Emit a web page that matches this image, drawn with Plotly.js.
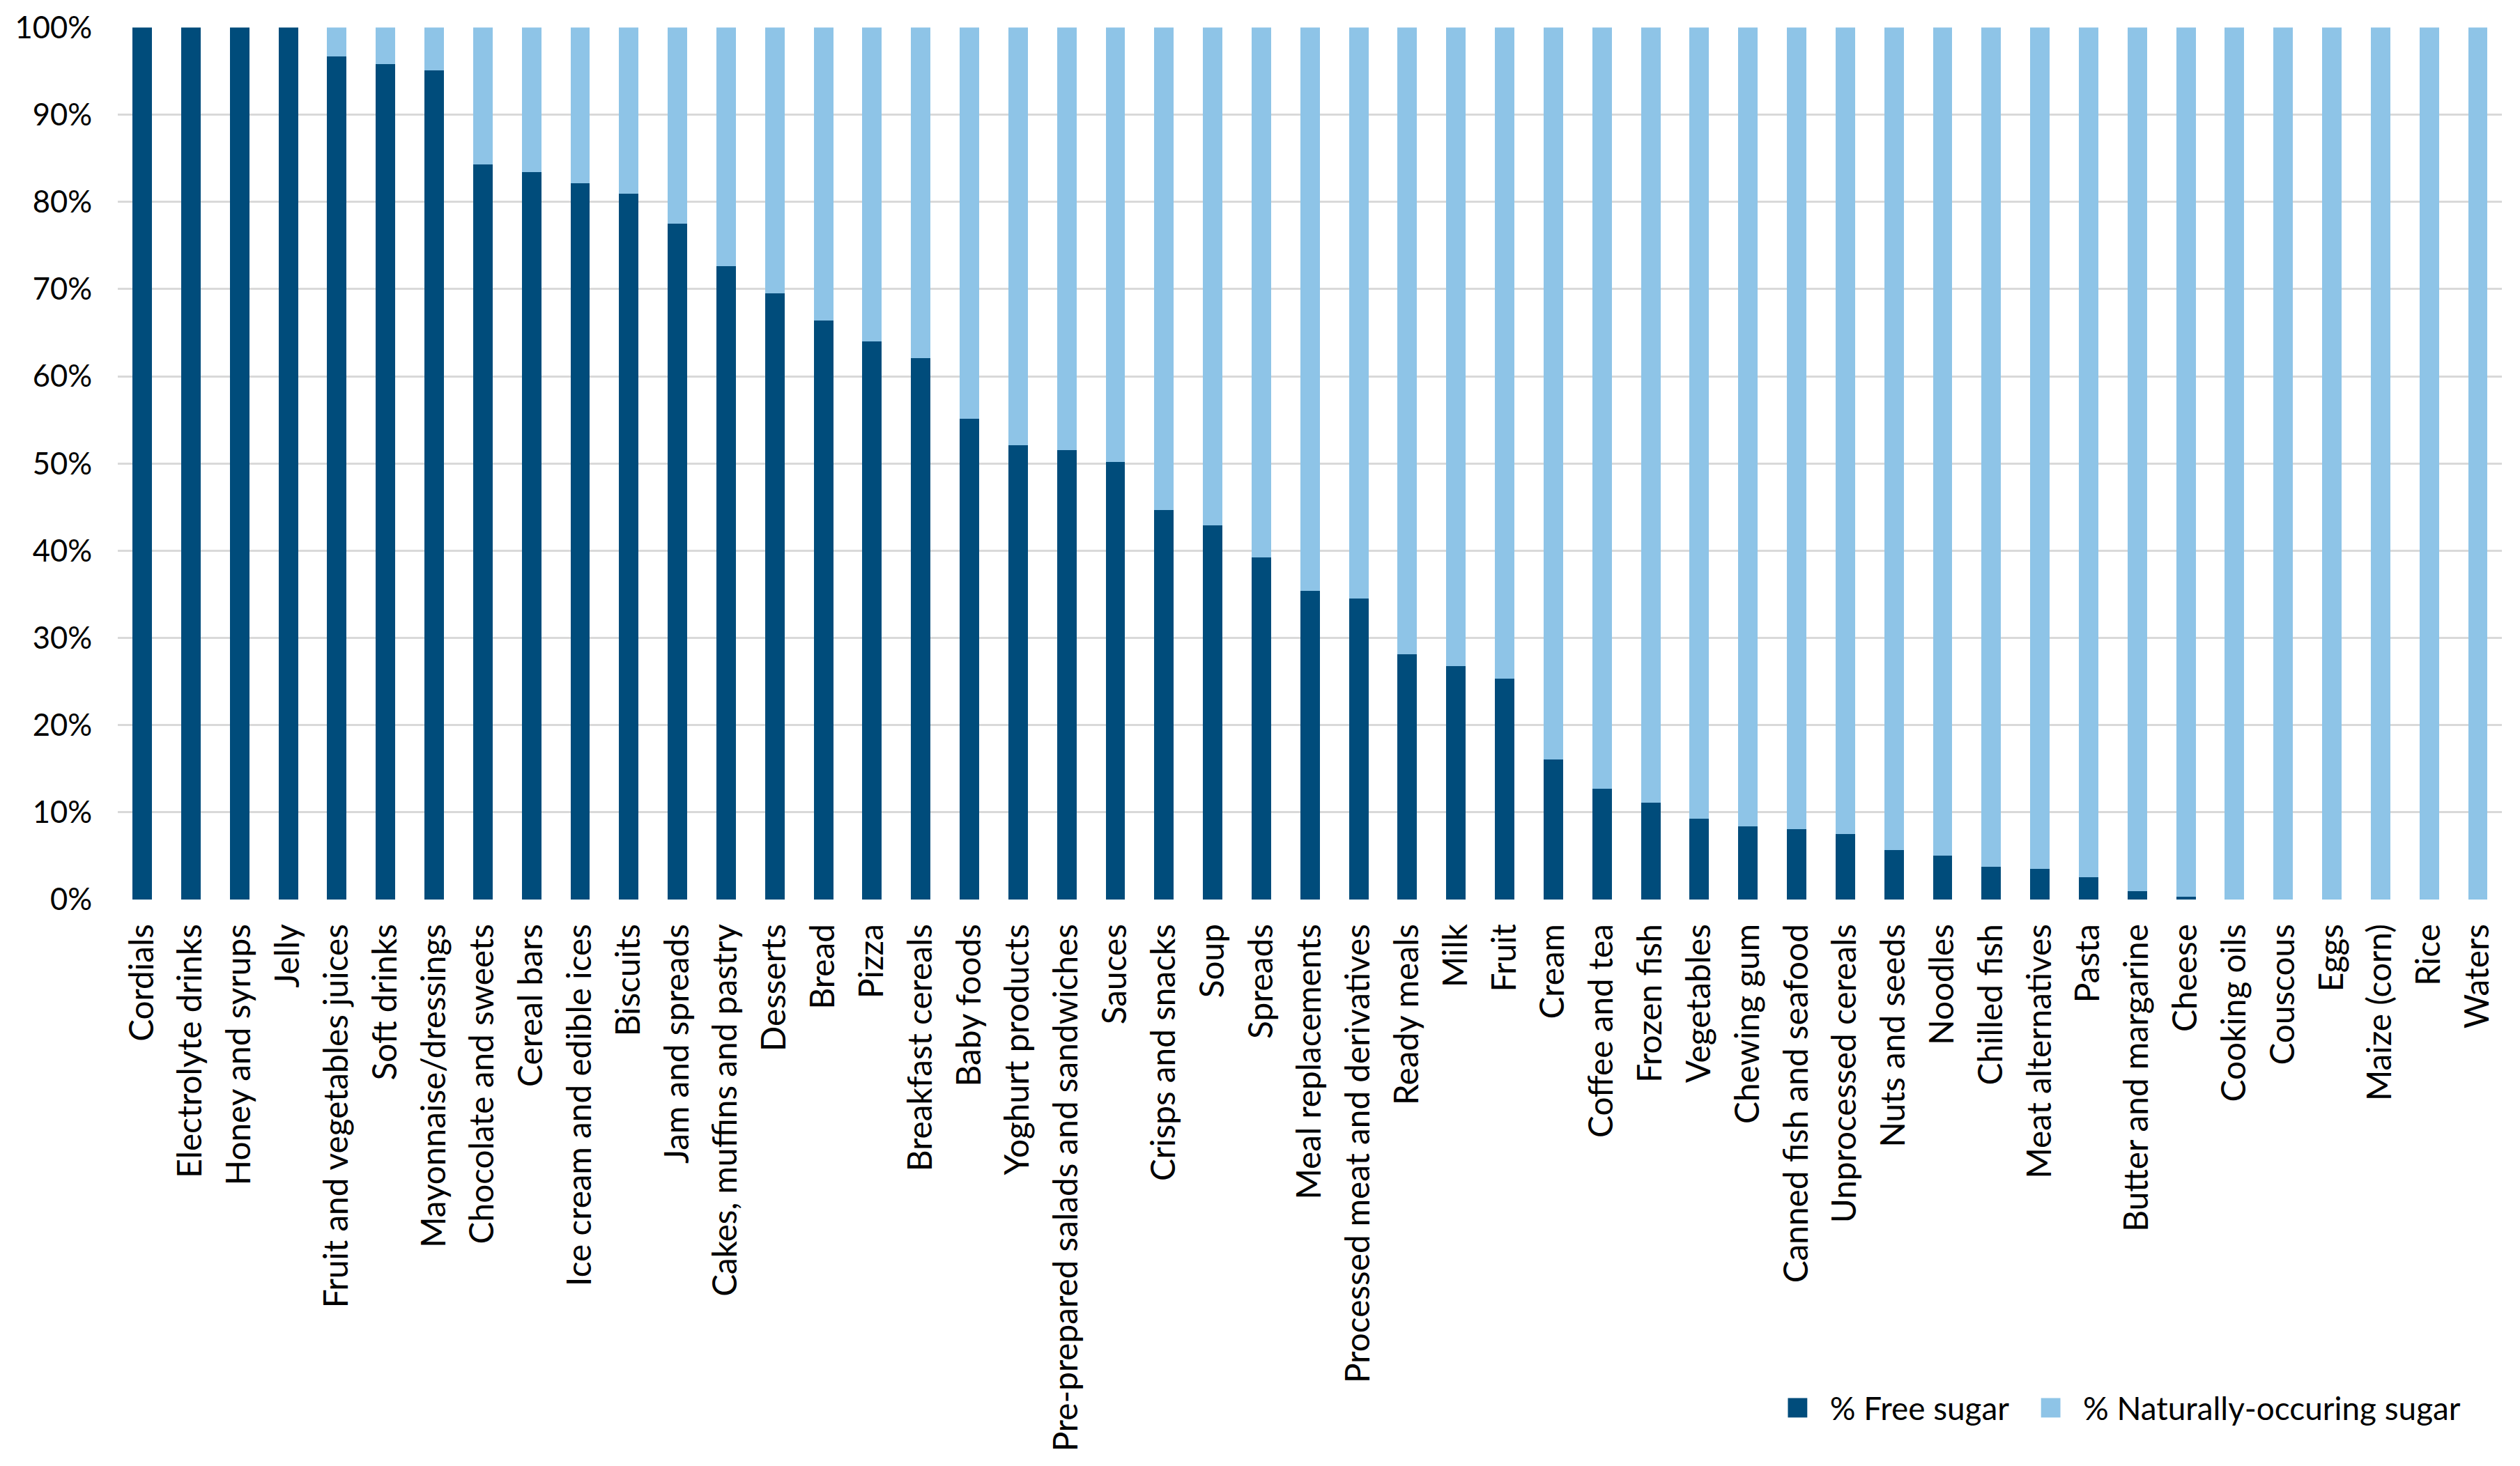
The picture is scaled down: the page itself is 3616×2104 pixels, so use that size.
<!DOCTYPE html>
<html>
<head>
<meta charset="utf-8">
<script src="https://cdn.plot.ly/plotly-3.0.1.min.js"></script>
<style>
    html { margin: 0; padding: 0; background: #ffffff; }
    body { margin: 0; padding: 0; width: 3616px; height: 2104px; background: #ffffff; }
    #wrap { width: 1560px; height: 908px; transform: scale(2.3179); transform-origin: 0 0; }
</style>
</head>
<body>
<div id="wrap"><div id="chart"></div></div>
<script>

// food categories, left to right
const categories = [
    'Cordials', 'Electrolyte drinks', 'Honey and syrups', 'Jelly',
    'Fruit and vegetables juices', 'Soft drinks', 'Mayonnaise/dressings',
    'Chocolate and sweets', 'Cereal bars', 'Ice cream and edible ices',
    'Biscuits', 'Jam and spreads', 'Cakes, muffins and pastry', 'Desserts',
    'Bread', 'Pizza', 'Breakfast cereals', 'Baby foods', 'Yoghurt products',
    'Pre-prepared salads and sandwiches', 'Sauces', 'Crisps and snacks', 'Soup',
    'Spreads', 'Meal replacements', 'Processed meat and derivatives',
    'Ready meals', 'Milk', 'Fruit', 'Cream', 'Coffee and tea', 'Frozen fish',
    'Vegetables', 'Chewing gum', 'Canned fish and seafood', 'Unprocessed cereals',
    'Nuts and seeds', 'Noodles', 'Chilled fish', 'Meat alternatives', 'Pasta',
    'Butter and margarine', 'Cheese', 'Cooking oils', 'Couscous', 'Eggs',
    'Maize (corn)', 'Rice', 'Waters'
];

// % free sugar (dark part of each bar)
const freeSugar = [
    100, 100, 100, 100, 96.7, 95.8, 95.1, 84.3, 83.4, 82.1,
    80.9, 77.5, 72.6, 69.5, 66.4, 64.0, 62.1, 55.1, 52.1, 51.5,
    50.2, 44.7, 42.9, 39.2, 35.4, 34.5, 28.1, 26.8, 25.3, 16.1,
    12.7, 11.1, 9.3, 8.4, 8.1, 7.5, 5.7, 5.0, 3.8, 3.5,
    2.6, 1.0, 0.3, 0, 0, 0, 0, 0, 0
];

// % naturally-occuring sugar (light part on top)
const naturalSugar = [
    0, 0, 0, 0, 3.3, 4.2, 4.9, 15.7, 16.6, 17.9,
    19.1, 22.5, 27.4, 30.5, 33.6, 36.0, 37.9, 44.9, 47.9, 48.5,
    49.8, 55.3, 57.1, 60.8, 64.6, 65.5, 71.9, 73.2, 74.7, 83.9,
    87.3, 88.9, 90.7, 91.6, 91.9, 92.5, 94.3, 95.0, 96.2, 96.5,
    97.4, 99.0, 99.7, 100, 100, 100, 100, 100, 100
];

const yTicks = [0, 10, 20, 30, 40, 50, 60, 70, 80, 90, 100];

const fontFamily = 'Lato, "Open Sans", sans-serif';

const chartData = [
    {
        type: 'bar',
        name: '% Free sugar',
        x: categories,
        y: freeSugar,
        marker: { color: '#004c7b' },
        hoverinfo: 'none'
    },
    {
        type: 'bar',
        name: '% Naturally-occuring sugar',
        x: categories,
        y: naturalSugar,
        marker: { color: '#8ec4e7' },
        hoverinfo: 'none'
    }
];

const chartLayout = {
    width: 1560,
    height: 908,
    margin: { l: 73.3, r: 11.2, t: 16.8, b: 350.6 },
    paper_bgcolor: '#ffffff',
    plot_bgcolor: '#ffffff',
    barmode: 'stack',
    bargap: 0.6,
    font: {
        family: fontFamily,
        size: 20,
        color: '#000000'
    },
    xaxis: {
        type: 'category',
        tickangle: -90,
        tickfont: { size: 20.6 },
        ticks: '',
        ticklabelstandoff: 10,
        showgrid: false,
        showline: false,
        zeroline: false,
        automargin: false
    },
    yaxis: {
        range: [0, 100],
        tickvals: yTicks,
        ticktext: yTicks.map( v => v + '%' ),
        tickfont: { size: 18.8 },
        ticks: '',
        ticklabelstandoff: 15,
        gridcolor: '#d9d9d9',
        gridwidth: 1.3,
        showline: false,
        zeroline: false,
        automargin: false
    },
    showlegend: true,
    legend: {
        orientation: 'h',
        traceorder: 'normal',
        x: 0.987,
        xanchor: 'right',
        y: -0.583,
        yanchor: 'middle',
        font: { family: fontFamily, size: 19.8, color: '#000000' },
        bgcolor: 'rgba(0,0,0,0)'
    }
};

Plotly.newPlot( 'chart', chartData, chartLayout, { displayModeBar: false, staticPlot: true } );

</script>
</body>
</html>
